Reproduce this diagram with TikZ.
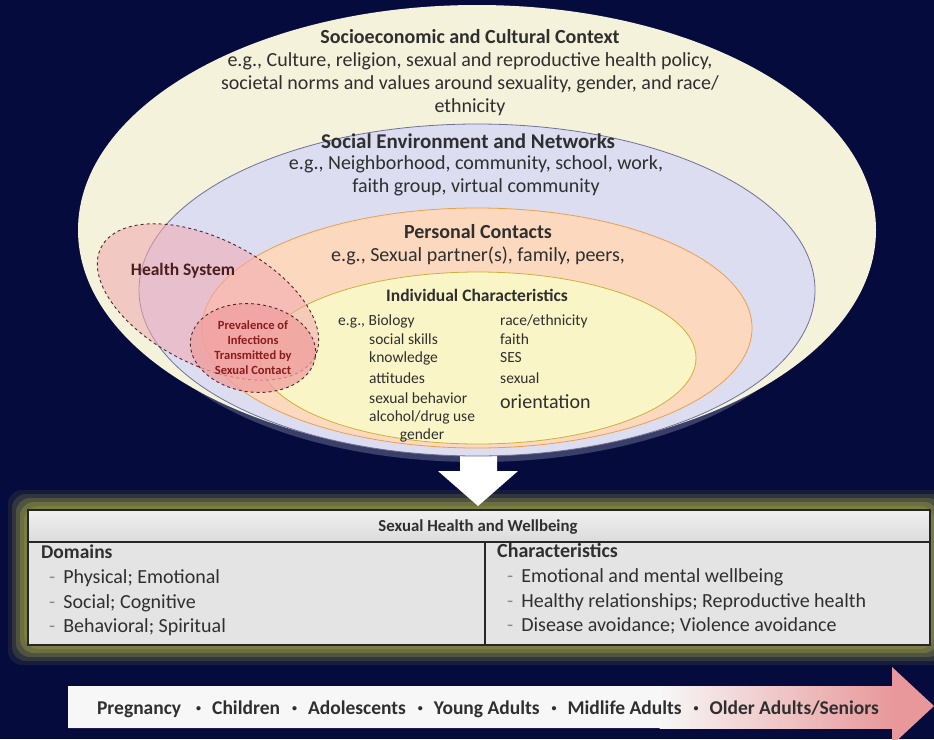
\documentclass[tikz,border=0pt]{standalone}
\usepackage{fontspec}
\setmainfont{Carlito}
\usetikzlibrary{shapes.geometric}
\definecolor{bg}{HTML}{050B3C}
\definecolor{cream}{HTML}{F4F2DA}
\definecolor{lav}{HTML}{DCDDF0}
\definecolor{lavline}{HTML}{6E7196}
\definecolor{peach}{HTML}{FBD8BE}
\definecolor{peachline}{HTML}{E9A04E}
\definecolor{yel}{HTML}{FAF5C6}
\definecolor{yelline}{HTML}{C9B23A}
\definecolor{hsfill}{HTML}{F2A8B0}
\definecolor{prfill}{HTML}{F09E9E}
\definecolor{dashline}{HTML}{4A2A2A}
\definecolor{txt}{HTML}{2F2F2F}
\definecolor{maroon}{HTML}{4B1E1E}
\definecolor{darkred}{HTML}{8A1C1C}
\definecolor{glow}{HTML}{7E8244}
\definecolor{tablefill}{HTML}{E4E4E4}
\definecolor{pinkend}{HTML}{E8989A}
\newcommand\myfs[2]{\fontsize{#1}{#2}\selectfont}
\newcommand\lsep{\hspace{12pt}\raisebox{2.5pt}{\fontsize{10}{10}\selectfont\textbullet}\hspace{11pt}}
\tikzset{
  lbl/.style={text=txt, inner sep=0pt},
  head/.style={lbl, font=\myfs{20}{23}\bfseries},
  body/.style={lbl, font=\myfs{20}{23}, align=center},
  indiv/.style={lbl, font=\myfs{15.5}{18}, anchor=west},
  tbl/.style={lbl, font=\myfs{20}{23}, anchor=west},
  dashbox/.style={draw=dashline, dashed, line width=0.9pt},
}
\begin{document}
\begin{tikzpicture}[x=1pt,y=-1pt]
\useasboundingbox (0,0) rectangle (934,739);
\fill[bg] (0,0) rectangle (934,739);
% faint glow under the ellipses
\fill[lav, opacity=0.25] (477,294) ellipse [x radius=342, y radius=168];
% glow around the table
\foreach \e/\o in {20/0.15,16/0.25,12/0.4,8/0.6,4/0.8,1/0.95}{
  \fill[glow, opacity=\o, rounded corners=14] (28-\e,510-\e) rectangle (930+\e,645+\e);
}
% down arrow
\fill[white] (460,430) -- (497,430) -- (497,471) -- (518,471) -- (478,506) -- (438,471) -- (460,471) -- cycle;
% ellipses
\fill[cream] (477,230) ellipse [x radius=399, y radius=225];
\filldraw[fill=lav, draw=lavline, line width=0.8pt] (477,290) ellipse [x radius=338, y radius=166];
\filldraw[fill=peach, draw=peachline, line width=0.8pt] (477,328) ellipse [x radius=275, y radius=120];
\filldraw[fill=yel, draw=yelline, line width=0.8pt] (478,358) ellipse [x radius=218, y radius=86];
% health system overlays
\filldraw[dashbox, fill=hsfill, fill opacity=0.55, rotate around={-27:(208,302)}] (208,302) ellipse [x radius=120, y radius=63];
\filldraw[dashbox, fill=prfill, fill opacity=0.75, rotate around={-8:(253,348)}] (253,348) ellipse [x radius=63, y radius=44];
% texts in ellipses
\node[head] (t1) at (470,37) {Socioeconomic and Cultural Context};
\node[body] (t1b) at (470,84) {e.g., Culture, religion, sexual and reproductive health policy,\\societal norms and values around sexuality, gender, and race/\\ethnicity};
\node[head, font=\myfs{21}{23}\bfseries] (t2) at (468,141) {Social Environment and Networks};
\node[body] (t2b) at (476,176) {e.g., Neighborhood, community, school, work,\\faith group, virtual community};
\node[head] (t3) at (478,232) {Personal Contacts};
\node[body] (t3b) at (478,256) {e.g., Sexual partner(s), family, peers,};
\node[lbl, font=\myfs{17.5}{20}\bfseries] (t4) at (477,295) {Individual Characteristics};
\node[indiv] (i1) at (338,321) {e.g., Biology};
\node[indiv] (i2) at (369,339) {social skills};
\node[indiv] (i3) at (369,358) {knowledge};
\node[indiv] (i4) at (369,378) {attitudes};
\node[indiv] (i5) at (369,398) {sexual behavior};
\node[indiv] (i6) at (369,417) {alcohol/drug use};
\node[lbl, font=\myfs{15.5}{18}] (i7) at (422,435) {gender};
\node[indiv] (r1) at (500,321) {race/ethnicity};
\node[indiv] (r2) at (500,339) {faith};
\node[indiv] (r3) at (500,358) {SES};
\node[indiv] (r4) at (500,378) {sexual};
\node[indiv, font=\myfs{20}{22}] (r5) at (500,402) {orientation};
\node[lbl, text=maroon, font=\myfs{17.5}{20}\bfseries] (hs) at (183,271) {Health System};
\node[lbl, text=darkred, align=center, font=\myfs{12.5}{15}\bfseries] (pr) at (253,348) {Prevalence of\\Infections\\Transmitted by\\Sexual Contact};
% table
\fill[tablefill] (28,510) rectangle (930,645);
\shade[top color=white!94!black, bottom color=white!86!black] (28,510) rectangle (930,542);
\draw[line width=1.1pt, black!85] (28,510) rectangle (930,645);
\draw[line width=1.1pt, black!85] (28,542) -- (930,542);
\draw[line width=1.1pt, black!85] (485,542) -- (485,645);
\node[lbl, font=\myfs{16.8}{19}\bfseries] (th) at (478,527) {Sexual Health and Wellbeing};
\node[lbl, anchor=west, font=\myfs{19.5}{22}\bfseries] (dm) at (41,552) {Domains};
\node[tbl] (d1) at (49,578) {\textcolor{black!45}{-}\hspace{8pt}Physical; Emotional};
\node[tbl] (d2) at (49,603) {\textcolor{black!45}{-}\hspace{8pt}Social; Cognitive};
\node[tbl] (d3) at (49,627) {\textcolor{black!45}{-}\hspace{8pt}Behavioral; Spiritual};
\node[lbl, anchor=west, font=\myfs{20}{22}\bfseries] (ch) at (497,551) {Characteristics};
\node[tbl] (c1) at (507,577) {\textcolor{black!45}{-}\hspace{8pt}Emotional and mental wellbeing};
\node[tbl] (c2) at (507,602) {\textcolor{black!45}{-}\hspace{8pt}Healthy relationships; Reproductive health};
\node[tbl] (c3) at (507,626) {\textcolor{black!45}{-}\hspace{8pt}Disease avoidance; Violence avoidance};
% lifespan arrow
\fill[pinkend] (68,686) -- (892,686) -- (892,667) -- (934,706) -- (892,745) -- (892,728) -- (68,728) -- cycle;
\fill[white!97!black] (68,686) rectangle (660,728);
\shade[left color=white!97!black, right color=pinkend] (659.5,686) rectangle (892.5,728);
\node[lbl, font=\myfs{19.5}{22}\bfseries] (life) at (488,709) {Pregnancy\hspace{3pt}\lsep Children\lsep Adolescents\lsep Young Adults\lsep Midlife Adults\lsep Older Adults/Seniors};
\end{tikzpicture}
\end{document}
